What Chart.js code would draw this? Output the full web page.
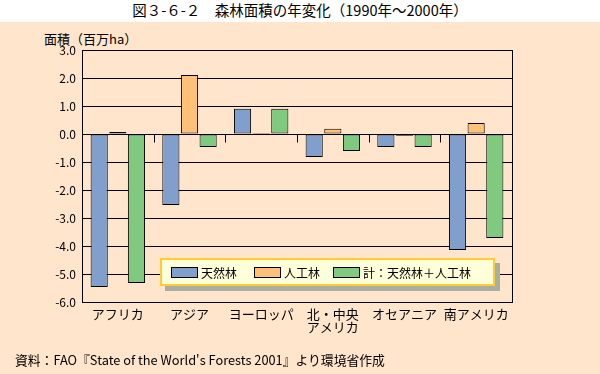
<!DOCTYPE html>
<html lang="ja">
<head>
<meta charset="UTF-8">
<title>森林面積の年変化</title>
<script src="https://cdn.jsdelivr.net/npm/chart.js"></script>
<style>
    body { margin: 0; background: #FFE5CC; font-family: "Noto Sans CJK JP", sans-serif; }
    .wrap { position: relative; width: 600px; height: 374px; overflow: hidden; }
    .band { position: absolute; left: 0; top: 0; width: 600px; height: 22px; background: #fff; }
    .title { position: absolute; left: 0; top: 1px; width: 600px; text-align: center; font-size: 14.5px; line-height: 18px; color: #000; }
    .ytitle { position: absolute; left: 44px; top: 31px; font-size: 13px; line-height: 16px; }
    .source { position: absolute; left: 15px; top: 352px; font-size: 12.8px; line-height: 16px; }
    canvas { position: absolute; left: 0; top: 0; }
</style>
</head>
<body>
<div class="wrap">
    <div class="band"></div>
    <div class="title">図３-６-２　森林面積の年変化（1990年～2000年）</div>
    <div class="ytitle">面積（百万ha）</div>
    <canvas id="c" width="600" height="374"></canvas>
    <div class="source">資料：FAO『State of the World's Forests 2001』より環境省作成</div>
</div>
<script>
    // データ（百万ha）
    const categories = ['アフリカ', 'アジア', 'ヨーロッパ', ['北・中央', 'アメリカ'], 'オセアニア', '南アメリカ'];
    const natural = [-5.46, -2.54, 0.90, -0.82, -0.46, -4.14];
    const plantation = [0.07, 2.11, 0.04, 0.19, -0.06, 0.39];
    const total = [-5.32, -0.46, 0.90, -0.61, -0.46, -3.71];
    const seriesNames = ['天然林', '人工林', '計：天然林＋人工林'];
    const yMin = -6, yMax = 3, yStep = 1;

    const font = { family: '"Noto Sans CJK JP", sans-serif', size: 12 };

    // 枠線とゼロ線上の区切り目盛り、凡例
    const extras = {
        id: 'extras',
        afterDraw(chart) {
            const ctx = chart.ctx, a = chart.chartArea;
            const y = chart.scales.y;
            ctx.save();
            ctx.strokeStyle = '#000';
            ctx.lineWidth = 1;
            ctx.strokeRect(Math.round(a.left) + 0.5, Math.round(a.top) + 0.5,
                Math.round(a.right - a.left), Math.round(a.bottom - a.top));
            const y0 = Math.round(y.getPixelForValue(0)) + 0.5;
            const w = (a.right - a.left) / categories.length;
            ctx.beginPath();
            for (let i = 1; i < categories.length; i++) {
                const px = Math.round(a.left + w * i) + 0.5;
                ctx.moveTo(px, y0);
                ctx.lineTo(px, y0 + 8);
            }
            ctx.stroke();

            // 凡例
            const lx = 160, ly = 258, lw = 335, lh = 28;
            ctx.fillStyle = '#A9AEA2';
            ctx.fillRect(lx + 5, ly + 5, lw, lh);
            ctx.fillStyle = '#FFFFD9';
            ctx.fillRect(lx, ly, lw, lh);
            ctx.strokeStyle = '#FFCC33';
            ctx.lineWidth = 2;
            ctx.strokeRect(lx + 1, ly + 1, lw - 2, lh - 2);
            const items = [171, 254, 333];
            ctx.font = '12px "Noto Sans CJK JP", sans-serif';
            ctx.textBaseline = 'middle';
            chart.data.datasets.forEach((ds, i) => {
                ctx.fillStyle = ds.backgroundColor;
                ctx.fillRect(items[i], ly + 9, 27, 11);
                ctx.strokeStyle = '#000';
                ctx.lineWidth = 1;
                ctx.strokeRect(items[i] + 0.5, ly + 9.5, 26, 10);
                ctx.fillStyle = '#000';
                ctx.fillText(ds.label, items[i] + 30, ly + 15);
            });
            ctx.restore();
        }
    };

    new Chart(document.getElementById('c'), {
        type: 'bar',
        data: {
            labels: categories,
            datasets: [
                { label: seriesNames[0], data: natural, backgroundColor: '#809FCC' },
                { label: seriesNames[1], data: plantation, backgroundColor: '#FFC078' },
                { label: seriesNames[2], data: total, backgroundColor: '#80CA80' }
            ]
        },
        options: {
            responsive: false,
            animation: false,
            layout: { padding: { left: 0, right: 88, top: 50, bottom: 30 } },
            datasets: {
                bar: {
                    borderColor: '#000',
                    borderWidth: 1,
                    borderSkipped: false,
                    categoryPercentage: 0.78,
                    barPercentage: 0.92
                }
            },
            plugins: { legend: { display: false }, tooltip: { enabled: false } },
            scales: {
                x: {
                    grid: { display: false },
                    border: { display: false },
                    ticks: {
                        color: '#000',
                        font: { family: font.family, size: 13, lineHeight: 1 },
                        padding: -2,
                        maxRotation: 0,
                        autoSkip: false
                    },
                    afterFit(s) { s.height = 42; }
                },
                y: {
                    min: yMin,
                    max: yMax,
                    grid: { color: '#000', lineWidth: 1, drawTicks: false },
                    border: { display: false },
                    ticks: {
                        stepSize: yStep,
                        color: '#000',
                        font: font,
                        padding: 6,
                        callback: v => v.toFixed(1)
                    },
                    afterFit(s) { s.width = 82; }
                }
            }
        },
        plugins: [extras]
    });
</script>
</body>
</html>
